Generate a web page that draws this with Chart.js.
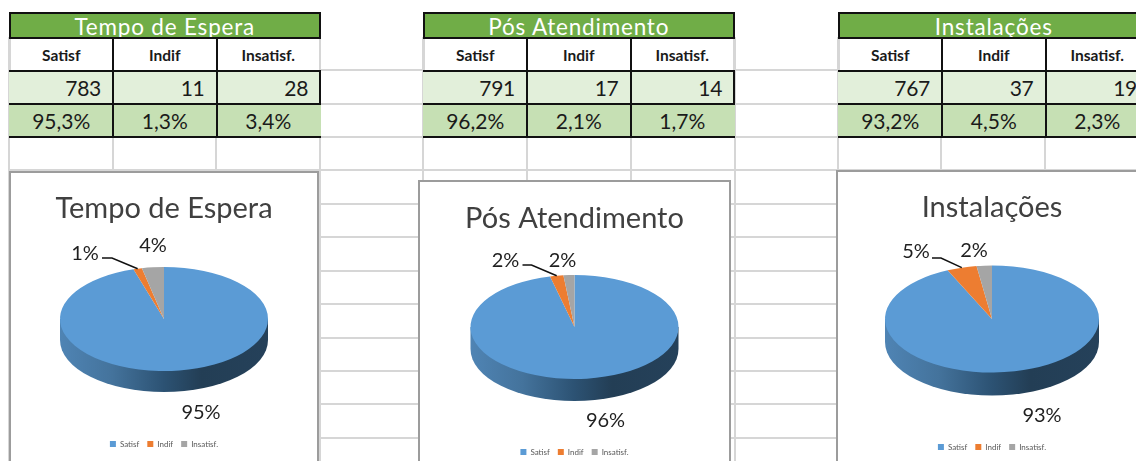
<!DOCTYPE html>
<html lang="pt">
<head>
  <meta charset="UTF-8">
  <title>Tempo de Espera, Pós Atendimento, Instalações</title>
  <script src="https://cdn.jsdelivr.net/npm/chart.js"></script>
  <style>
    html, body { margin: 0; padding: 0; background: #fff; }
    body { width: 1136px; height: 461px; overflow: hidden; position: relative; font-family: Lato, sans-serif; color: #1a1a1a; }
    .line { position: absolute; background: #d6d6d6; }
    table { position: absolute; top: 12px; border-collapse: collapse; table-layout: fixed; }
    th.head { height: 23px; padding: 0; background: #70ad47; color: #fff; font-size: 22.5px; font-weight: 400; line-height: 26px; letter-spacing: 0.8px; border: 2px solid #111; overflow: hidden; }
    th.head div { height: 23px; overflow: hidden; }
    td { padding: 0; height: 31px; border: 2px solid #111; }
    tr.names td { background: #fff; text-align: center; font-size: 15.5px; font-weight: 700; border-left-color: #d6d6d6; }
    tr.names td + td { border-left-color: #111; }
    tr.names td:last-child { border-right-color: #d6d6d6; }
    tr.counts td { background: #e2efda; text-align: right; padding-right: 11px; font-size: 21px; letter-spacing: -0.3px; }
    tr.counts td:first-child { border-left-color: #e2efda; }
    tr.pcts td { background: #c6e0b4; text-align: center; font-size: 21px; }
    tr.pcts td:first-child { border-left-color: #c6e0b4; }
    tr.pcts td:last-child { border-right-color: #c6e0b4; }
    .frame { position: absolute; box-sizing: border-box; background: #fff; border: 2px solid #9c9c9c; border-bottom: 0; }
    .frame canvas { display: block; }
  </style>
</head>
<body>
  <div id="sheet"></div>
  <div class="frame" id="frame0"><canvas id="pie0"></canvas></div>
  <div class="frame" id="frame1"><canvas id="pie1"></canvas></div>
  <div class="frame" id="frame2"><canvas id="pie2"></canvas></div>

  <script>
    const categories = ['Satisf', 'Indif', 'Insatisf.'];
    const titles = ['Tempo de Espera', 'Pós Atendimento', 'Instalações'];

    const tempoValues = [783, 11, 28];
    const posValues = [791, 17, 14];
    const instValues = [767, 37, 19];

    const tempoPercent = ['95,3%', '1,3%', '3,4%'];
    const posPercent = ['96,2%', '2,1%', '1,7%'];
    const instPercent = ['93,2%', '4,5%', '2,3%'];

    const tempoLabels = ['95%', '1%', '4%'];
    const posLabels = ['96%', '2%', '2%'];
    const instLabels = ['93%', '5%', '2%'];

    const sliceColors = ['#5b9bd5', '#ed7d31', '#a5a5a5'];

    // layout da pagina (nao sao dados)
    const gridRows = [70, 104, 137, 170, 204, 237, 271, 304, 338, 371, 404, 438];
    const gridCols = [9, 113, 216, 320, 423, 527, 631, 735, 838, 941, 1045];
    const tableLeft = [8.5, 422.5, 837.5];
    const columnWidth = 103.5;

    const charts = [
      { left: 9, top: 171, width: 310, cy: 319, rx: 104, depth: 21, titleY: 209, legendY: 444,
        labels: [[37, 94], [-79, -65], [-11, -73]], elbow: [[-62, -61], [-52, -61]], values: tempoValues, text: tempoLabels },
      { left: 418, top: 180, width: 313, cy: 327, rx: 104, depth: 22, titleY: 219, legendY: 452,
        labels: [[31, 94], [-69, -66], [-12, -66]], elbow: [[-52, -62], [-43, -62]], values: posValues, text: posLabels },
      { left: 836, top: 170, width: 312, cy: 319, rx: 107, depth: 23, titleY: 208, legendY: 447,
        labels: [[50, 97], [-76, -67], [-18, -68]], elbow: [[-60, -61], [-51, -61]], values: instValues, text: instLabels }
    ];
    const titleFont = 29;

    const sheet = document.getElementById('sheet');
    function addLine(x, y, w, h) {
      const d = document.createElement('div');
      d.className = 'line';
      d.style.cssText = `left:${x}px;top:${y}px;width:${w}px;height:${h}px`;
      sheet.appendChild(d);
    }
    gridRows.forEach(y => addLine(9, y - 1, 1127, 2));
    gridCols.forEach(x => addLine(x - 1, 37, 2, 424));

    function addTable(i, head, values, percent) {
      const t = document.createElement('table');
      t.style.left = tableLeft[i] + 'px';
      t.style.width = (columnWidth * 3) + 'px';
      const cols = categories.map(() => `<col style="width:${columnWidth}px">`).join('');
      t.innerHTML = `<colgroup>${cols}</colgroup>` +
        `<tr><th class="head" colspan="3"><div>${head}</div></th></tr>` +
        `<tr class="names">${categories.map(c => `<td>${c}</td>`).join('')}</tr>` +
        `<tr class="counts">${values.map(v => `<td>${v}</td>`).join('')}</tr>` +
        `<tr class="pcts">${percent.map(p => `<td>${p}</td>`).join('')}</tr>`;
      document.body.appendChild(t);
    }
    addTable(0, titles[0], tempoValues, tempoPercent);
    addTable(1, titles[1], posValues, posPercent);
    addTable(2, titles[2], instValues, instPercent);

    // achata a pizza em elipse e desenha a lateral antes das fatias
    const pie3d = {
      id: 'pie3d',
      beforeDatasetsDraw(chart, args, opts) {
        const ctx = chart.ctx;
        const arc = chart.getDatasetMeta(0).data[0];
        const rx = arc.outerRadius, ry = rx / 2, d = opts.depth;
        const g = ctx.createLinearGradient(arc.x - rx, 0, arc.x + rx, 0);
        g.addColorStop(0, '#4f84b4');
        g.addColorStop(0.25, '#44739c');
        g.addColorStop(0.5, '#2c5273');
        g.addColorStop(0.68, '#233e55');
        g.addColorStop(1, '#25415a');
        ctx.save();
        ctx.fillStyle = g;
        ctx.beginPath();
        ctx.moveTo(arc.x + rx, arc.y);
        ctx.lineTo(arc.x + rx, arc.y + d);
        ctx.ellipse(arc.x, arc.y + d, rx, ry, 0, 0, Math.PI);
        ctx.lineTo(arc.x - rx, arc.y);
        ctx.closePath();
        ctx.fill();
        ctx.restore();
        ctx.save();
        ctx.translate(0, arc.y);
        ctx.scale(1, 0.5);
        ctx.translate(0, -arc.y);
      },
      afterDatasetsDraw(chart, args, opts) {
        const ctx = chart.ctx;
        ctx.restore();
        const meta = chart.getDatasetMeta(0);
        const first = meta.data[0];
        // linha de chamada ate a fatia laranja
        const orange = meta.data[1];
        const mid = (orange.startAngle + orange.endAngle) / 2;
        const ex = orange.x + Math.cos(mid) * orange.outerRadius;
        const ey = orange.y + Math.sin(mid) * orange.outerRadius / 2;
        ctx.save();
        ctx.strokeStyle = '#111';
        ctx.lineWidth = 1.5;
        ctx.beginPath();
        ctx.moveTo(first.x + opts.elbow[0][0], first.y + opts.elbow[0][1]);
        ctx.lineTo(first.x + opts.elbow[1][0], first.y + opts.elbow[1][1]);
        ctx.lineTo(ex, ey);
        ctx.stroke();
        ctx.fillStyle = '#1f1f1f';
        ctx.font = '20px Lato';
        ctx.textAlign = 'center';
        ctx.textBaseline = 'middle';
        opts.text.forEach((t, i) => {
          ctx.fillText(t, first.x + opts.labels[i][0], first.y + opts.labels[i][1]);
        });
        ctx.restore();
      }
    };

    charts.forEach((c, i) => {
      const frame = document.getElementById('frame' + i);
      frame.style.cssText = `left:${c.left}px;top:${c.top}px;width:${c.width}px;height:${500 - c.top}px`;
      const canvas = document.getElementById('pie' + i);
      const originY = c.top + 2;
      canvas.width = c.width - 4;
      canvas.height = 500 - originY;

      const titleH = titleFont * 1.2;
      const chart = new Chart(canvas, {
        type: 'pie',
        data: {
          labels: categories,
          datasets: [{
            data: c.values,
            backgroundColor: sliceColors,
            borderWidth: 0,
            radius: c.rx,
            clip: false
          }]
        },
        options: {
          responsive: false,
          animation: false,
          layout: { padding: { bottom: 0 } },
          plugins: {
            tooltip: { enabled: false },
            title: {
              display: true,
              text: titles[i],
              color: '#404040',
              font: { family: 'Lato', size: titleFont, weight: '400', lineHeight: 1.2 },
              padding: { top: c.titleY - originY - titleH / 2, bottom: 0 }
            },
            legend: {
              position: 'bottom',
              labels: {
                boxWidth: 6,
                boxHeight: 6,
                padding: 8,
                color: '#595959',
                font: { family: 'Lato', size: 8 }
              }
            },
            pie3d: { depth: c.depth, labels: c.labels, elbow: c.elbow, text: c.text }
          }
        },
        plugins: [pie3d]
      });

      // depois do primeiro layout: acerta a altura da legenda e o centro da pizza
      const opts = chart.config.options;
      const hit = chart.legend.legendHitBoxes[0];
      opts.layout.padding.bottom = hit.top + hit.height / 2 - (c.legendY - originY);
      chart.update();
      const arc = chart.getDatasetMeta(0).data[0];
      opts.plugins.title.padding.bottom = 2 * (c.cy - originY - arc.y);
      chart.update();
    });
  </script>
</body>
</html>
